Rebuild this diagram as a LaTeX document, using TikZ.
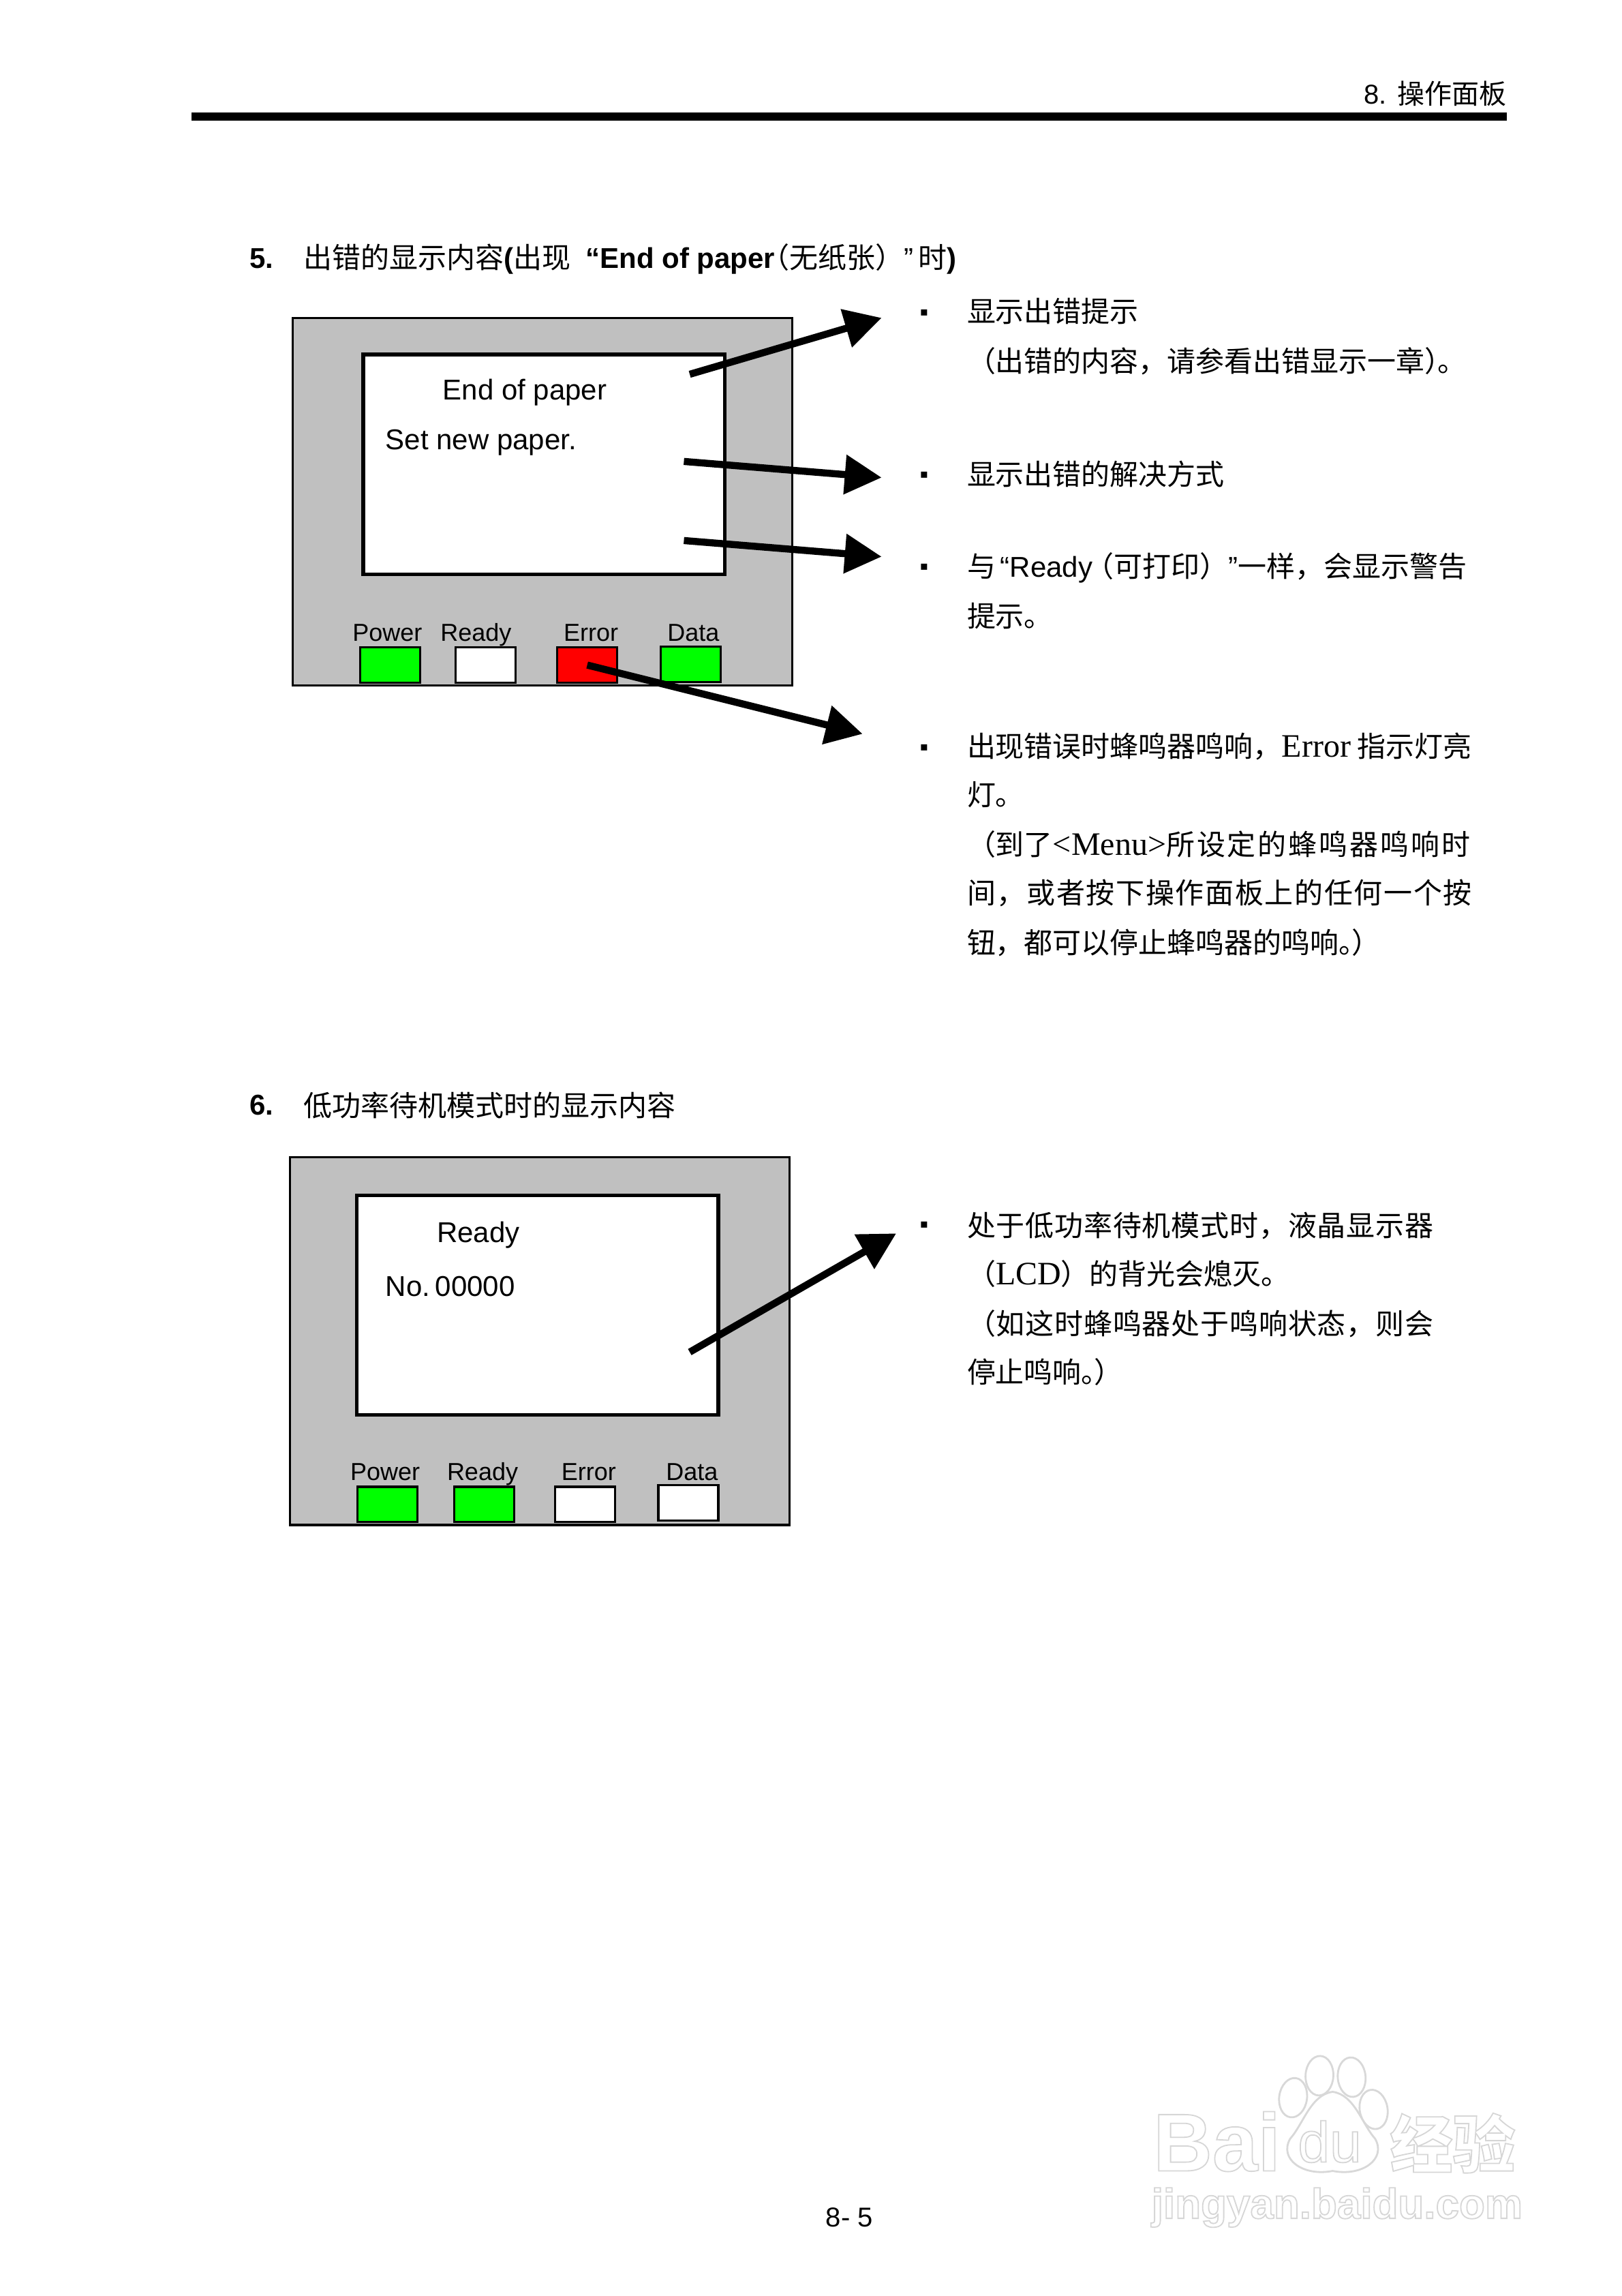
\documentclass[tikz,border=0pt]{standalone}
\usepackage{fontspec}
\setmainfont{Noto Sans CJK SC}
\newfontfamily\arialfont{Liberation Sans}
\newfontfamily\timesfont{Liberation Serif}
\newfontfamily\markfont{DejaVu Sans}
\usetikzlibrary{arrows.meta}
\definecolor{panelgray}{HTML}{C0C0C0}
\definecolor{ledgreen}{HTML}{00FF00}
\definecolor{ledred}{HTML}{FF0000}
\definecolor{wmgray}{HTML}{D8D8D8}

% hollow letters for the watermark
\newcommand{\hollow}[1]{\special{pdf:code q 1 Tr 0.45 w 0.84 G}#1\special{pdf:code Q}}
\newcommand{\bodylatin}[1]{{\timesfont\fontsize{12}{12}\selectfont #1}}
\newcommand{\spaced}[2]{{\addfontfeature{LetterSpace=#1}#2}}

\begin{document}
\begin{tikzpicture}[x=0.5373pt,y=-0.5373pt,
	panelbox/.style={draw=black,line width=0.8pt,fill=panelgray,minimum width=183.2pt,minimum height=134.9pt,inner sep=0pt},
	screenbox/.style={draw=black,line width=1.3pt,fill=white,minimum width=132.7pt,minimum height=80.6pt,inner sep=0pt},
	ledbox/.style={draw=black,line width=0.8pt,minimum width=22pt,minimum height=12.9pt,inner sep=0pt},
	ledlabel/.style={anchor=base,inner sep=0pt,font=\arialfont\fontsize{9}{9}\selectfont},
	screentext/.style={anchor=base west,inner sep=0pt,font=\arialfont\fontsize{10.5}{10.5}\selectfont},
	bodytext/.style={anchor=base west,inner sep=0pt,font=\fontsize{10.5}{10.5}\selectfont},
	bullet/.style={anchor=base,inner sep=0pt,font=\markfont\fontsize{4.5}{4.5}\selectfont},
	callout/.style={line width=2.6pt,-{Triangle[length=13.5pt,width=14pt]}},
	wmtext/.style={inner sep=0pt},
	wmshape/.style={draw=wmgray,line width=0.7pt,fill=white}
]
\useasboundingbox (0,0) rectangle (1107.6,1567.4);
\fill[white] (0,0) rectangle (1107.6,1567.4);

% header
\node[bodytext,anchor=base east,font=\fontsize{10}{10}\selectfont] (headtitle) at (1029,71) {{\arialfont 8.}\,\ 操作面板};
\coordinate (ruleL) at (131,79.5);
\coordinate (ruleR) at (1029,79.5);
\draw[line width=2.9pt] (ruleL) -- (ruleR);

% section 5
\node[bodytext,font=\arialfont\bfseries\fontsize{10.5}{10.5}\selectfont] (numA) at (170,183) {5.};
\node[bodytext] (titleA) at (207,183) {出错的显示内容{\arialfont\bfseries(}出现{\arialfont\bfseries\ \kern.25em“End of paper}\kern-.5em（无纸张）{\arialfont ”\,}时{\arialfont\bfseries)}};

\node[panelbox] (panelA) at (370.5,342.5) {};
\node[screenbox] (screenA) at (371.5,317) {};
\node[screentext] (screenAa) at (302,273) {End of paper};
\node[screentext] (screenAb) at (263,307) {Set new paper.};
\node[ledlabel] (lblApower) at (264.5,437.5) {Power};
\node[ledlabel] (lblAready) at (325,437.5) {Ready};
\node[ledlabel] (lblAerror) at (403.5,437.5) {Error};
\node[ledlabel] (lblAdata) at (473.5,437.5) {Data};
\node[ledbox,fill=ledgreen] (ledApower) at (266.5,454) {};
\node[ledbox,fill=white] (ledAready) at (331.5,454) {};
\node[ledbox,fill=ledred] (ledAerror) at (401,454) {};
\node[ledbox,fill=ledgreen] (ledAdata) at (471.5,453.5) {};

\coordinate (fromAa) at (471,255.5);
\coordinate (toAa) at (602,217);
\coordinate (fromAb) at (467,315);
\coordinate (toAb) at (602,326);
\coordinate (fromAc) at (467,369);
\coordinate (toAc) at (602,380);
\coordinate (toAd) at (589,501);
\draw[callout] (fromAa) -- (toAa);
\draw[callout] (fromAb) -- (toAb);
\draw[callout] (fromAc) -- (toAc);
\draw[callout] (ledAerror.center) -- (toAd);

\node[bullet] (dotAa) at (631,215.5) {▪};
\node[bodytext] (lineAa) at (660,220) {显示出错提示};
\node[bodytext] (lineAb) at (660,254) {（出错的内容，请参看出错显示一章）\kern-.55em。};
\node[bullet] (dotAb) at (631,326.5) {▪};
\node[bodytext] (lineAc) at (660,331) {显示出错的解决方式};
\node[bullet] (dotAc) at (631,389.5) {▪};
\node[bodytext] (lineAd) at (660,394) {与\,{\arialfont “Ready}\kern-.25em（可打印）{\arialfont ”}一样，会显示警告};
\node[bodytext] (lineAe) at (660,428) {提示。};
\node[bullet] (dotAd) at (631,512.5) {▪};
\node[bodytext] (lineAf) at (660,517) {出现错误时蜂鸣器鸣响，\bodylatin{Error} 指示灯亮};
\node[bodytext] (lineAg) at (660,550) {灯。};
\node[bodytext] (lineAh) at (660,584) {（到了\bodylatin{<Menu>}\spaced{7}{所设定的蜂鸣器鸣响时}};
\node[bodytext] (lineAi) at (660,617) {\spaced{4}{间，或者按下操作面板上的任何一个按}};
\node[bodytext] (lineAj) at (660,651) {钮，都可以停止蜂鸣器的鸣响。\kern-.55em）};

% section 6
\node[bodytext,font=\arialfont\bfseries\fontsize{10.5}{10.5}\selectfont] (numB) at (170,761) {6.};
\node[bodytext] (titleB) at (207,762) {低功率待机模式时的显示内容};

\node[panelbox] (panelB) at (368.5,915.5) {};
\node[screenbox] (screenB) at (367,891) {};
\node[screentext] (screenBa) at (298,848) {Ready};
\node[screentext] (screenBb) at (263,885) {No.\kern-1pt\ 00000};
\node[ledlabel] (lblBpower) at (263,1010.5) {Power};
\node[ledlabel] (lblBready) at (329.5,1010.5) {Ready};
\node[ledlabel] (lblBerror) at (402,1010.5) {Error};
\node[ledlabel] (lblBdata) at (472.5,1010.5) {Data};
\node[ledbox,fill=ledgreen] (ledBpower) at (264.5,1027) {};
\node[ledbox,fill=ledgreen] (ledBready) at (330.5,1027) {};
\node[ledbox,fill=white] (ledBerror) at (399.5,1027) {};
\node[ledbox,fill=white] (ledBdata) at (470,1026) {};

\coordinate (fromBa) at (471,923);
\coordinate (toBa) at (612,842);
\draw[callout] (fromBa) -- (toBa);

\node[bullet] (dotBa) at (631,838.5) {▪};
\node[bodytext] (lineBa) at (660,844) {\spaced{2}{处于低功率待机模式时，液晶显示器}};
\node[bodytext] (lineBb) at (660,877) {（\bodylatin{LCD}）的背光会熄灭。};
\node[bodytext] (lineBc) at (660,911) {\spaced{2}{（如这时蜂鸣器处于鸣响状态，则会}};
\node[bodytext] (lineBd) at (660,944) {停止鸣响。\kern-.55em）};

% footer
\node[ledlabel,font=\arialfont\fontsize{10}{10}\selectfont] (pagenum) at (580,1520) {8- 5};

% watermark
\foreach \px/\py/\rot in {883/1432/-8,901/1417/-3,923/1418/5,938/1440/10}
	\draw[wmshape,rotate around={\rot:(\px,\py)}] (\px,\py) ellipse (9.5 and 13.5);
\draw[wmshape] (910,1428) .. controls (925,1430) and (930,1450) .. (939,1460) .. controls (947,1474) and (930,1486) .. (910,1482) .. controls (890,1486) and (873,1474) .. (881,1460) .. controls (890,1450) and (895,1430) .. (910,1428) -- cycle;
\node[wmtext,font=\arialfont\bfseries\fontsize{30}{30}\selectfont] (wmBai) at (831,1462) {\hollow{Bai}};
\node[wmtext,font=\arialfont\fontsize{21}{21}\selectfont] (wmdu) at (908,1462) {\hollow{du}};
\node[wmtext,font=\bfseries\fontsize{23}{23}\selectfont] (wmjy) at (992,1463) {\hollow{经验}};
\node[wmtext,font=\arialfont\bfseries\fontsize{15.5}{15.5}\selectfont] (wmurl) at (913,1507) {\hollow{jingyan.baidu.com}};
\end{tikzpicture}
\end{document}
